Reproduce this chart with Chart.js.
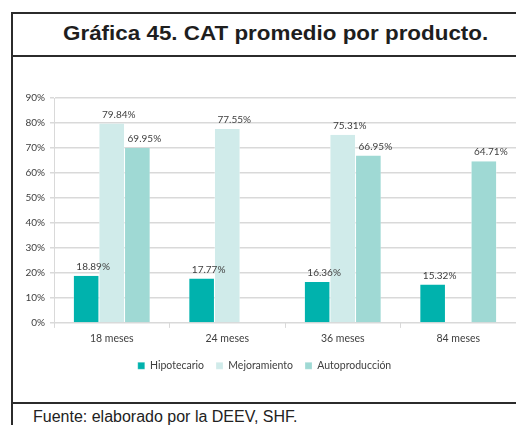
<!DOCTYPE html>
<html lang="es">
<head>
<meta charset="utf-8">
<title>Gráfica 45. CAT promedio por producto.</title>
<script src="https://cdn.jsdelivr.net/npm/chart.js@4/dist/chart.umd.min.js"></script>
<style>
  html, body { margin: 0; padding: 0; background: #fff; }
  #page { position: relative; width: 516px; height: 425px; overflow: hidden; font-family: "Liberation Sans", Arial, sans-serif; }
  .rule-h { position: absolute; left: 11px; right: 0; height: 2px; background: #2b2b2b; }
  .rule-v { position: absolute; left: 11px; top: 12px; bottom: 0; width: 2px; background: #2b2b2b; }
  #title { position: absolute; left: 63px; top: 22px; font-size: 20px; font-weight: bold; color: #1e1e1e; white-space: nowrap; transform: scaleX(1.12); transform-origin: left center; }
  #source { position: absolute; left: 33px; top: 408px; font-size: 16px; color: #222; white-space: nowrap; }
  #wrap { position: absolute; left: 13px; top: 57px; width: 503px; height: 344px; }
</style>
</head>
<body>
<div id="page">
  <div class="rule-h" style="top:12px"></div>
  <div class="rule-h" style="top:55px"></div>
  <div class="rule-h" style="top:402px"></div>
  <div class="rule-v"></div>
  <div id="title">Gráfica 45. CAT promedio por producto.</div>
  <div id="wrap"><canvas id="chart"></canvas></div>
  <div id="source">Fuente: elaborado por la DEEV, SHF.</div>
</div>
<script>
// Datos: CAT promedio (%) por plazo y producto
const plazos = ['18 meses', '24 meses', '36 meses', '84 meses'];
const hipotecario = [18.89, 17.77, 16.36, 15.32];
const mejoramiento = [79.84, 77.55, 75.31, null];
const autoproduccion = [69.95, null, 66.95, 64.71];
const yTicks = [0, 10, 20, 30, 40, 50, 60, 70, 80, 90];

const COLORS = {
  hipotecario: '#00b2ad',
  mejoramiento: '#d0ebea',
  autoproduccion: '#9fd9d4',
  text: '#404040',
  grid: '#d9d9d9'
};

const FONT = '"Lato", "Open Sans", sans-serif';

// Etiquetas de valor sobre cada barra
const valueLabels = {
  id: 'valueLabels',
  afterDatasetsDraw(chart) {
    const ctx = chart.ctx;
    ctx.save();
    ctx.font = '10px ' + FONT;
    ctx.fillStyle = COLORS.text;
    ctx.textAlign = 'center';
    ctx.textBaseline = 'bottom';
    chart.data.datasets.forEach((ds, i) => {
      chart.getDatasetMeta(i).data.forEach((bar, j) => {
        const v = ds.data[j];
        if (v == null) return;
        ctx.fillText(v.toFixed(2) + '%', bar.x + 7, bar.y - 4);
      });
    });
    ctx.restore();
  }
};

function dataset(label, data, color) {
  return {
    label,
    data,
    backgroundColor: color,
    borderColor: '#ffffff',
    borderWidth: { left: 0.5, right: 0.5, top: 0, bottom: 0 },
    barPercentage: 1,
    categoryPercentage: 0.665
  };
}

new Chart(document.getElementById('chart'), {
  type: 'bar',
  data: {
    labels: plazos,
    datasets: [
      dataset('Hipotecario', hipotecario, COLORS.hipotecario),
      dataset('Mejoramiento', mejoramiento, COLORS.mejoramiento),
      dataset('Autoproducción', autoproduccion, COLORS.autoproduccion)
    ]
  },
  options: {
    responsive: true,
    maintainAspectRatio: false,
    animation: false,
    layout: { padding: { top: 41, right: 0, bottom: 20, left: 0 } },
    plugins: {
      legend: {
        position: 'bottom',
        labels: {
          boxWidth: 7,
          boxHeight: 7,
          padding: 12,
          color: COLORS.text,
          font: { family: FONT, size: 10.5 }
        }
      },
      tooltip: { enabled: false }
    },
    scales: {
      x: {
        grid: { drawOnChartArea: false, drawTicks: true, tickLength: 5, color: COLORS.grid },
        border: { color: COLORS.grid },
        ticks: { color: COLORS.text, font: { family: FONT, size: 10.5 }, padding: 4 }
      },
      y: {
        min: 0,
        max: 90,
        afterBuildTicks(scale) { scale.ticks = yTicks.map(v => ({ value: v })); },
        afterFit(scale) { scale.width = 41; },
        grid: { color: COLORS.grid, lineWidth: 1.5, tickLength: 4 },
        border: { color: COLORS.grid },
        ticks: {
          color: COLORS.text,
          font: { family: FONT, size: 10 },
          padding: 5,
          callback: v => v + '%'
        }
      }
    }
  },
  plugins: [valueLabels]
});
</script>
</body>
</html>
